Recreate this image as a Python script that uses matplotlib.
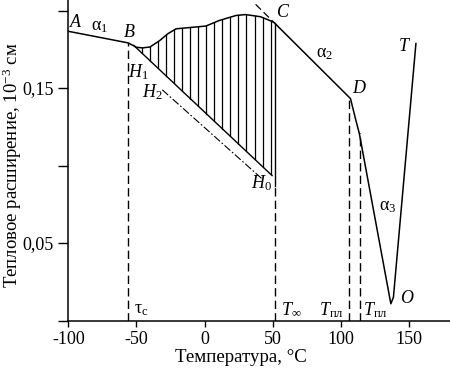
import numpy as np
import matplotlib
matplotlib.use("Agg")
import matplotlib.pyplot as plt

plt.rcParams['font.family'] = ['Liberation Serif', 'DejaVu Serif']
plt.rcParams['mathtext.fontset'] = 'custom'
plt.rcParams['mathtext.rm'] = 'Liberation Serif'
plt.rcParams['mathtext.it'] = 'Liberation Serif:italic'

# основная кривая A-B-C-D-O-T
curve_t = [-100, -69.4, -56, -50, -45.5, -40, -33, -27, -21, 1, 10.5, 23, 30, 41, 48, 51,
           107, 111, 113.5, 136.6, 138.5, 155]
curve_e = [0.1866, 0.1814, 0.1791, 0.1763, 0.1759, 0.1765, 0.1806, 0.1850, 0.1882, 0.1900,
           0.1935, 0.1968, 0.1974, 0.1960, 0.1935, 0.1922,
           0.1432, 0.1290, 0.1206, 0.0108, 0.0150, 0.1787]

# прямые H1 и H2
h1_t = [-52, 49.5]
h1_e = [0.1775, 0.0935]
h2_t = [-31, 42]
h2_e = [0.1488, 0.0915]

# продолжение отрезка CD
cd_t = [37.4, 51]
cd_e = [0.2040, 0.1922]

# вертикальные штриховые линии: температура, верх
v_t = [-56, 51.3, 105.6, 113.9]
v_top = [0.1791, 0.087, 0.1432, 0.121]

xticks = [-100, -50, 0, 50, 100, 150]
yticks = [0, 0.05, 0.10, 0.15, 0.20]
ylabels = ['', '0,05', '', '0,15', '']

fig = plt.figure(figsize=(4.5, 3.68), dpi=100)
ax = fig.add_axes([68.3/450, 47.5/368, 1 - 68.3/450, 320.5/368])

ax.plot(curve_t, curve_e, color='k', lw=1.1)
ax.plot(h1_t, h1_e, color='k', lw=1.0)
ax.plot(h2_t, h2_e, color='k', lw=0.8, dashes=(7, 2, 1.5, 2))
ax.plot(cd_t, cd_e, color='k', lw=0.9, dashes=(6, 3))

# штриховка между H1 и кривой
for t in np.arange(-46, 51, 5.9):
    lo = np.interp(t, h1_t, h1_e)
    hi = np.interp(t, curve_t, curve_e)
    ax.plot([t, t], [lo, hi], color='k', lw=0.9)
ax.plot([51.3, 51.3], [0.087, 0.1922], color='k', lw=1.0)

for t, top in zip(v_t, v_top):
    ax.plot([t, t], [0, top], color='k', lw=1.0, dashes=(6, 3))

fs = 13
ax.text(-94.1, 0.1926, '$A$', fontsize=fs, ha='center', va='center')
ax.text(-76.7, 0.1895, r'α$_1$', fontsize=fs, ha='center', va='center')
ax.text(-54.9, 0.1860, '$B$', fontsize=fs, ha='center', va='center')
ax.text(-48.9, 0.1605, '$H_1$', fontsize=fs, ha='center', va='center')
ax.text(-38, 0.1476, '$H_2$', fontsize=fs, ha='center', va='center')
ax.text(41.5, 0.0889, '$H_0$', fontsize=fs, ha='center', va='center')
ax.text(57.3, 0.1985, '$C$', fontsize=fs, ha='center', va='center')
ax.text(87.8, 0.1724, r'α$_2$', fontsize=fs, ha='center', va='center')
ax.text(113.4, 0.1498, '$D$', fontsize=fs, ha='center', va='center')
ax.text(146.3, 0.1767, '$T$', fontsize=fs, ha='center', va='center')
ax.text(134.1, 0.0734, r'α$_3$', fontsize=fs, ha='center', va='center')
ax.text(148.7, 0.0143, '$O$', fontsize=fs, ha='center', va='center')
ax.text(-46.3, 0.0070, r'τ$_\mathrm{c}$', fontsize=fs, ha='center', va='center')
ax.text(63.4, 0.0070, r'$T_\infty$', fontsize=fs, ha='center', va='center')
ax.text(92.7, 0.0070, r'$T_\mathrm{пл}$', fontsize=fs, ha='center', va='center')
ax.text(125.6, 0.0070, r'$T_\mathrm{пл}$', fontsize=fs, ha='center', va='center')

ax.set_xlim(-100, 180)
ax.set_ylim(0, 0.2068)
ax.set_xticks(xticks)
ax.set_xticklabels([str(v) for v in xticks], fontsize=13)
ax.set_yticks(yticks)
ax.set_yticklabels(ylabels, fontsize=13)
ax.tick_params(axis='y', direction='out', length=7, width=1)
ax.tick_params(axis='x', direction='out', length=4, width=1)
for s in ['top', 'right']:
    ax.spines[s].set_visible(False)
for s in ['left', 'bottom']:
    ax.spines[s].set_linewidth(1.1)

ax.set_xlabel('Температура, °C', fontsize=13.6)
ax.xaxis.set_label_coords(0.4525, -0.09, transform=ax.transAxes)
fig.text(12/450, (368 - 165)/368, 'Тепловое расширение, 10$^{-3}$ см',
         fontsize=13.5, rotation=90, ha='center', va='center')

fig.savefig('out.png', dpi=100)
